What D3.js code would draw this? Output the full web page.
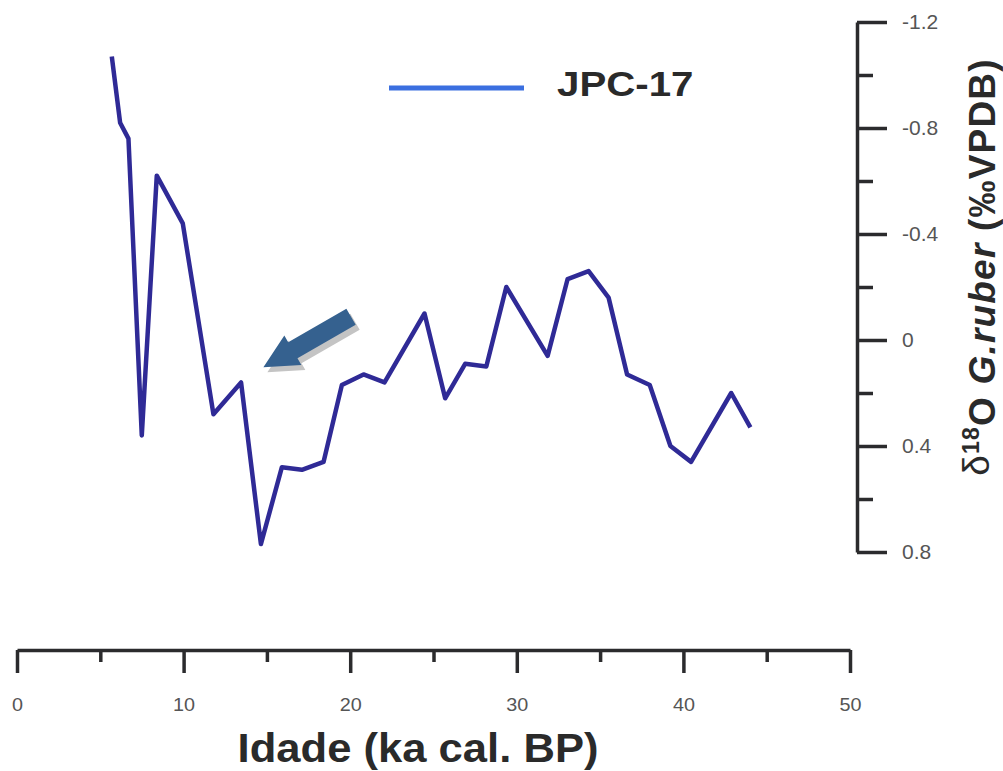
<!DOCTYPE html>
<html>
<head>
<meta charset="utf-8">
<script src="https://cdn.jsdelivr.net/npm/d3@7"></script>
<style>
    body { margin: 0; background: #fff; }
    svg { display: block; }
</style>
</head>
<body>
<div id="chart"></div>
<script>
    // JPC-17 core, age in ka cal. BP
    let ages = [5.69, 6.19, 6.69, 7.49, 8.39, 9.95, 11.79, 13.45, 14.64, 15.9,
        17.1, 18.4, 19.5, 20.8, 22.06, 24.46, 25.7, 26.9, 28.17, 29.37,
        31.85, 33.05, 34.31, 35.51, 36.62, 37.98, 39.22, 40.46, 42.87, 44.02];
    // d18O G. ruber (permil VPDB)
    let d18O = [-1.07, -0.82, -0.76, 0.36, -0.62, -0.44, 0.28, 0.16, 0.77, 0.48,
        0.49, 0.46, 0.17, 0.13, 0.16, -0.10, 0.22, 0.09, 0.10, -0.20,
        0.06, -0.23, -0.26, -0.16, 0.13, 0.17, 0.40, 0.46, 0.20, 0.33];

    let xMajorTicks = [0, 10, 20, 30, 40, 50];
    let xMinorTicks = [5, 15, 25, 35, 45];
    let yMajorTicks = [-1.2, -0.8, -0.4, 0, 0.4, 0.8];
    let yMinorTicks = [-1.0, -0.6, -0.2, 0.2, 0.6];

    // arrow annotation: tail and tip, in data units
    let arrowTail = [20.05, -0.088];
    let arrowTip = [14.79, 0.103];

    let seriesName = "JPC-17";

    let data = ages.map(function (a, i) {
        return {age: a, value: d18O[i]};
    });

    let width = 1003;
    let height = 771;
    let axisColor = "#2b2b2d";
    let font = "'Liberation Sans', Arial, sans-serif";

    let svg = d3.select("#chart").append("svg")
        .attr("width", width)
        .attr("height", height);

    let xScale = d3.scaleLinear().domain([0, 50]).range([17, 850]);
    let yScale = d3.scaleLinear().domain([-1.2, 0.8]).range([22, 552]);

    // x axis
    let xAxisY = 650;
    let xMinor = svg.append("g")
        .attr("transform", "translate(0," + xAxisY + ")")
        .call(d3.axisBottom(xScale).tickValues(xMinorTicks).tickSize(12).tickSizeOuter(0).tickFormat(""));
    xMinor.select(".domain").remove();

    let xMajor = svg.append("g")
        .attr("transform", "translate(0," + xAxisY + ")")
        .call(d3.axisBottom(xScale).tickValues(xMajorTicks).tickSize(23).tickSizeOuter(0)
            .tickPadding(25).tickFormat(d3.format("d")));

    [xMinor, xMajor].forEach(function (g) {
        g.selectAll("line").attr("stroke", axisColor).attr("stroke-width", 3.5);
        g.selectAll(".domain").attr("stroke", axisColor).attr("stroke-width", 3.5);
    });
    xMajor.selectAll("text")
        .style("font-family", font)
        .style("font-size", "18px")
        .attr("fill", "#555")
        .attr("transform", "scale(1.1,1)");

    // y axis on the right
    let yAxisX = 857;
    let yMinor = svg.append("g")
        .attr("transform", "translate(" + yAxisX + ",0)")
        .call(d3.axisRight(yScale).tickValues(yMinorTicks).tickSize(16).tickSizeOuter(0).tickFormat(""));
    yMinor.select(".domain").remove();

    let yMajor = svg.append("g")
        .attr("transform", "translate(" + yAxisX + ",0)")
        .call(d3.axisRight(yScale).tickValues(yMajorTicks).tickSize(30).tickSizeOuter(0)
            .tickPadding(15).tickFormat(function (d) {
                return d === 0 ? "0" : d.toFixed(1);
            }));

    [yMinor, yMajor].forEach(function (g) {
        g.selectAll("line").attr("stroke", axisColor).attr("stroke-width", 3.5);
        g.selectAll(".domain").attr("stroke", axisColor).attr("stroke-width", 3.5);
    });
    yMajor.selectAll("text")
        .style("font-family", font)
        .style("font-size", "21px")
        .attr("fill", "#555");

    // data line
    let line = d3.line()
        .x(function (d) { return xScale(d.age); })
        .y(function (d) { return yScale(d.value); });

    svg.append("path")
        .datum(data)
        .attr("fill", "none")
        .attr("stroke", "#2f2a96")
        .attr("stroke-width", 4.5)
        .attr("stroke-linejoin", "round")
        .attr("d", line);

    // arrow
    let tip = [xScale(arrowTip[0]), yScale(arrowTip[1])];
    let tail = [xScale(arrowTail[0]), yScale(arrowTail[1])];
    let dx = tip[0] - tail[0], dy = tip[1] - tail[1];
    let len = Math.sqrt(dx * dx + dy * dy);
    let ux = dx / len, uy = dy / len;
    let nx = -uy, ny = ux;
    let headLen = 34, headHalf = 17, shaftHalf = 9.3;
    let base = [tip[0] - ux * headLen, tip[1] - uy * headLen];
    let arrowPts = [
        [tail[0] + nx * shaftHalf, tail[1] + ny * shaftHalf],
        [base[0] + nx * shaftHalf, base[1] + ny * shaftHalf],
        [base[0] + nx * headHalf, base[1] + ny * headHalf],
        tip,
        [base[0] - nx * headHalf, base[1] - ny * headHalf],
        [base[0] - nx * shaftHalf, base[1] - ny * shaftHalf],
        [tail[0] - nx * shaftHalf, tail[1] - ny * shaftHalf]
    ];
    let arrowPath = "M" + arrowPts.map(function (p) { return p.join(","); }).join("L") + "Z";

    svg.append("path")
        .attr("d", arrowPath)
        .attr("transform", "translate(4,5)")
        .attr("fill", "#c4c4c4");
    svg.append("path")
        .attr("d", arrowPath)
        .attr("fill", "#35618f");

    // legend
    svg.append("line")
        .attr("x1", 389).attr("x2", 524)
        .attr("y1", 88).attr("y2", 88)
        .attr("stroke", "#3b6fe0")
        .attr("stroke-width", 5);

    svg.append("text")
        .text(seriesName)
        .attr("transform", "translate(557,96) scale(1.15,1)")
        .style("font-family", font)
        .style("font-weight", "bold")
        .style("font-size", "35px")
        .attr("fill", "#2a2a2a");

    // x axis label
    svg.append("text")
        .text("Idade (ka cal. BP)")
        .attr("text-anchor", "middle")
        .attr("transform", "translate(418,762) scale(1.09,1)")
        .style("font-family", font)
        .style("font-weight", "bold")
        .style("font-size", "40px")
        .attr("fill", "#2a2a2a");

    // y axis label
    let yLabel = svg.append("text")
        .attr("text-anchor", "middle")
        .attr("transform", "translate(989,267) rotate(-90)")
        .style("font-family", font)
        .style("font-weight", "bold")
        .style("font-size", "37px")
        .style("letter-spacing", "1.2px")
        .attr("fill", "#2a2a2a");
    yLabel.append("tspan").text("δ").style("font-weight", "normal");
    yLabel.append("tspan").text("18").attr("dy", "-0.45em").style("font-size", "23px");
    yLabel.append("tspan").text("O ").attr("dy", "0.45em");
    yLabel.append("tspan").text("G.ruber").style("font-style", "italic");
    yLabel.append("tspan").text(" (‰VPDB)");
</script>
</body>
</html>
